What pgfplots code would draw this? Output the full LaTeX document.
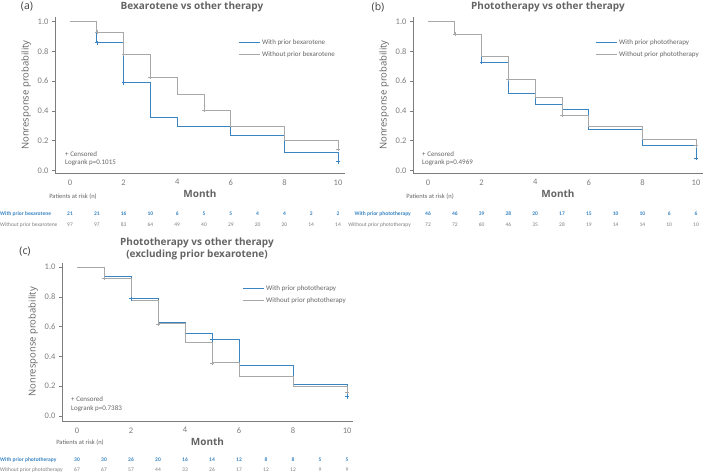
\documentclass[border=0pt]{standalone}
\usepackage{pgfplots}
\pgfplotsset{compat=1.18}
\usepackage{fontspec}
\setmainfont{Carlito}
\newfontfamily\titlefont{Open Sans}
\definecolor{kmblue}{RGB}{58,132,193}
\definecolor{kmgray}{RGB}{168,168,168}
\definecolor{txtgray}{RGB}{100,100,100}
\definecolor{tickgray}{RGB}{125,125,125}

\pgfplotsset{
  kmaxis/.style={
    scale only axis, anchor=south west, clip=false,
    axis x line*=bottom, axis y line*=left,
    axis line style={-, draw=tickgray, line width=0.6pt},
    xtick={0,2,...,10}, ytick={0,0.2,0.4,0.6,0.8,1.0},
    xtick style={draw=none},
    ytick style={draw=tickgray, line width=0.5pt},
    tick align=outside, major tick length=3pt,
    ticklabel style={font=\fontsize{8.5}{9}\selectfont, text=tickgray},
    /pgf/number format/assume math mode=true,
    yticklabel style={/pgf/number format/fixed, /pgf/number format/fixed zerofill, /pgf/number format/precision=1},
    xlabel={Month}, ylabel={Nonresponse probability},
    xlabel style={font=\titlefont\bfseries\fontsize{10}{12}\selectfont, text=txtgray, yshift=2pt},
    ylabel style={font=\titlefont\fontsize{9.5}{11}\selectfont, text=txtgray},
    legend style={draw=none, fill=none, anchor=north west, inner sep=0pt,
      font=\fontsize{7}{8}\selectfont, text=txtgray, row sep=1.5pt},
    legend cell align=left,
    legend image code/.code={\draw[##1] (0pt,0pt) -- (21pt,0pt);},
  },
  blueline/.style={const plot, draw=kmblue, line width=0.9pt, mark=none},
  grayline/.style={const plot, draw=kmgray, line width=0.9pt, mark=none},
  bluecens/.style={only marks, mark=+, mark size=2pt, draw=kmblue, mark options={line width=0.6pt}, forget plot},
  graycens/.style={only marks, mark=+, mark size=2pt, draw=kmgray, mark options={line width=0.6pt}, forget plot},
}
\newcommand{\risk}{\fontsize{5.5}{6}\selectfont}

\begin{document}
\begin{tikzpicture}[x=1pt,y=1pt]
\useasboundingbox (0,0) rectangle (706,475);

% ---------- (a)
\begin{axis}[kmaxis, at={(55pt,302pt)}, width=290pt, height=156pt,
  xmin=-0.56, xmax=10.26, ymin=-0.017, ymax=1.03,
  legend style={at={(0.631,0.87)}}]
\addplot[blueline] coordinates {(0,1) (1,0.857) (2,0.59) (3,0.355) (4,0.297) (6,0.237) (8,0.118) (10,0.059)};
\addlegendentry{With prior bexarotene}
\addplot[grayline] coordinates {(0,1) (1,0.928) (2,0.78) (3,0.625) (4,0.51) (5,0.405) (6,0.295) (8,0.20) (10,0.145)};
\addlegendentry{Without prior bexarotene}
\addplot[bluecens] coordinates {(1,0.857) (2,0.59) (10,0.059)};
\addplot[graycens] coordinates {(1,0.928) (2,0.78) (3,0.625) (5,0.405) (10,0.145)};
\end{axis}

% ---------- (b)
\begin{axis}[kmaxis, at={(413pt,302pt)}, width=290pt, height=156pt,
  xmin=-0.56, xmax=10.26, ymin=-0.017, ymax=1.03,
  legend style={at={(0.628,0.87)}}]
\addplot[blueline] coordinates {(0,1) (1,0.913) (2,0.725) (3,0.52) (4,0.443) (5,0.412) (6,0.275) (8,0.17) (10,0.083)};
\addlegendentry{With prior phototherapy}
\addplot[grayline] coordinates {(0,1) (1,0.913) (2,0.765) (3,0.613) (4,0.49) (5,0.369) (6,0.293) (8,0.21) (10,0.167)};
\addlegendentry{Without prior phototherapy}
\addplot[bluecens] coordinates {(2,0.725) (10,0.083)};
\addplot[graycens] coordinates {(1,0.913) (3,0.613) (5,0.369) (10,0.167)};
\end{axis}

% ---------- (c)
\begin{axis}[kmaxis, at={(62pt,54pt)}, width=291pt, height=158.5pt,
  xmin=-0.556, xmax=10.22, ymin=-0.034, ymax=1.03,
  legend style={at={(0.619,0.87)}}]
\addplot[blueline] coordinates {(0,1) (1,0.935) (2,0.787) (3,0.63) (4,0.553) (5,0.512) (6,0.34) (8,0.21) (10,0.13)};
\addlegendentry{With prior phototherapy}
\addplot[grayline] coordinates {(0,1) (1,0.926) (2,0.776) (3,0.618) (4,0.49) (5,0.356) (6,0.268) (8,0.201) (10,0.16)};
\addlegendentry{Without prior phototherapy}
\addplot[bluecens] coordinates {(2,0.787) (5,0.512) (10,0.13)};
\addplot[graycens] coordinates {(1,0.926) (3,0.618) (5,0.356) (10,0.16)};
\end{axis}

% ---------- titles
\tikzset{ttl/.style={font=\titlefont\bfseries\fontsize{10}{12}\selectfont, text=txtgray},
         pl/.style={font=\titlefont\fontsize{10.5}{12}\selectfont, text=black!75},
         note/.style={font=\fontsize{7}{8}\selectfont, text=txtgray, anchor=west, inner sep=0pt}}
\node[pl] at (27,468) {(a)};
\node[ttl] at (192,468) {Bexarotene vs other therapy};
\node[pl] at (378,468) {(b)};
\node[ttl] at (548,468) {Phototherapy vs other therapy};
\node[pl] at (25,223) {(c)};
\node[ttl, align=center] at (197,226.5) {Phototherapy vs other therapy\\(excluding prior bexarotene)};

% ---------- censored / logrank notes
\node[note] at (65,321) {+ Censored};
\node[note] at (65,312) {Logrank p=0.1015};
\node[note] at (422,321) {+ Censored};
\node[note] at (422,312) {Logrank p=0.4969};
\node[note] at (71,76) {+ Censored};
\node[note] at (71,66) {Logrank p=0.7383};

% ---------- patients at risk
\tikzset{par/.style={font=\fontsize{6.5}{7}\selectfont, text=txtgray},
         rb/.style={font=\risk\bfseries, text=kmblue, inner sep=0pt},
         rg/.style={font=\risk, text=tickgray, inner sep=0pt}}
\node[par] at (73,278) {Patients at risk (n)};
\node[par] at (430,278) {Patients at risk (n)};
\node[par] at (80,32) {Patients at risk (n)};

\node[rb, anchor=west] at (0,261) {With prior bexarotene};
\node[rg, anchor=west] at (0,250) {Without prior bexarotene};
\foreach \v [count=\i from 0] in {21,21,16,10,6,5,5,4,4,2,2}
  \node[rb] at ({70+26.8*\i},261) {\v};
\foreach \v [count=\i from 0] in {97,97,83,64,49,40,29,20,20,14,14}
  \node[rg] at ({70+26.8*\i},250) {\v};

\node[rb, anchor=east] at (411,261) {With prior phototherapy};
\node[rg, anchor=east] at (411,250) {Without prior phototherapy};
\foreach \v [count=\i from 0] in {46,46,39,28,20,17,15,10,10,6,6}
  \node[rb] at ({428+26.8*\i},261) {\v};
\foreach \v [count=\i from 0] in {72,72,60,46,35,28,19,14,14,10,10}
  \node[rg] at ({428+26.8*\i},250) {\v};

\node[rb, anchor=west] at (0,15) {With prior phototherapy};
\node[rg, anchor=west] at (0,5) {Without prior phototherapy};
\foreach \v [count=\i from 0] in {30,30,26,20,16,14,12,8,8,5,5}
  \node[rb] at ({77+27*\i},15) {\v};
\foreach \v [count=\i from 0] in {67,67,57,44,33,26,17,12,12,9,9}
  \node[rg] at ({77+27*\i},5) {\v};
\end{tikzpicture}
\end{document}
